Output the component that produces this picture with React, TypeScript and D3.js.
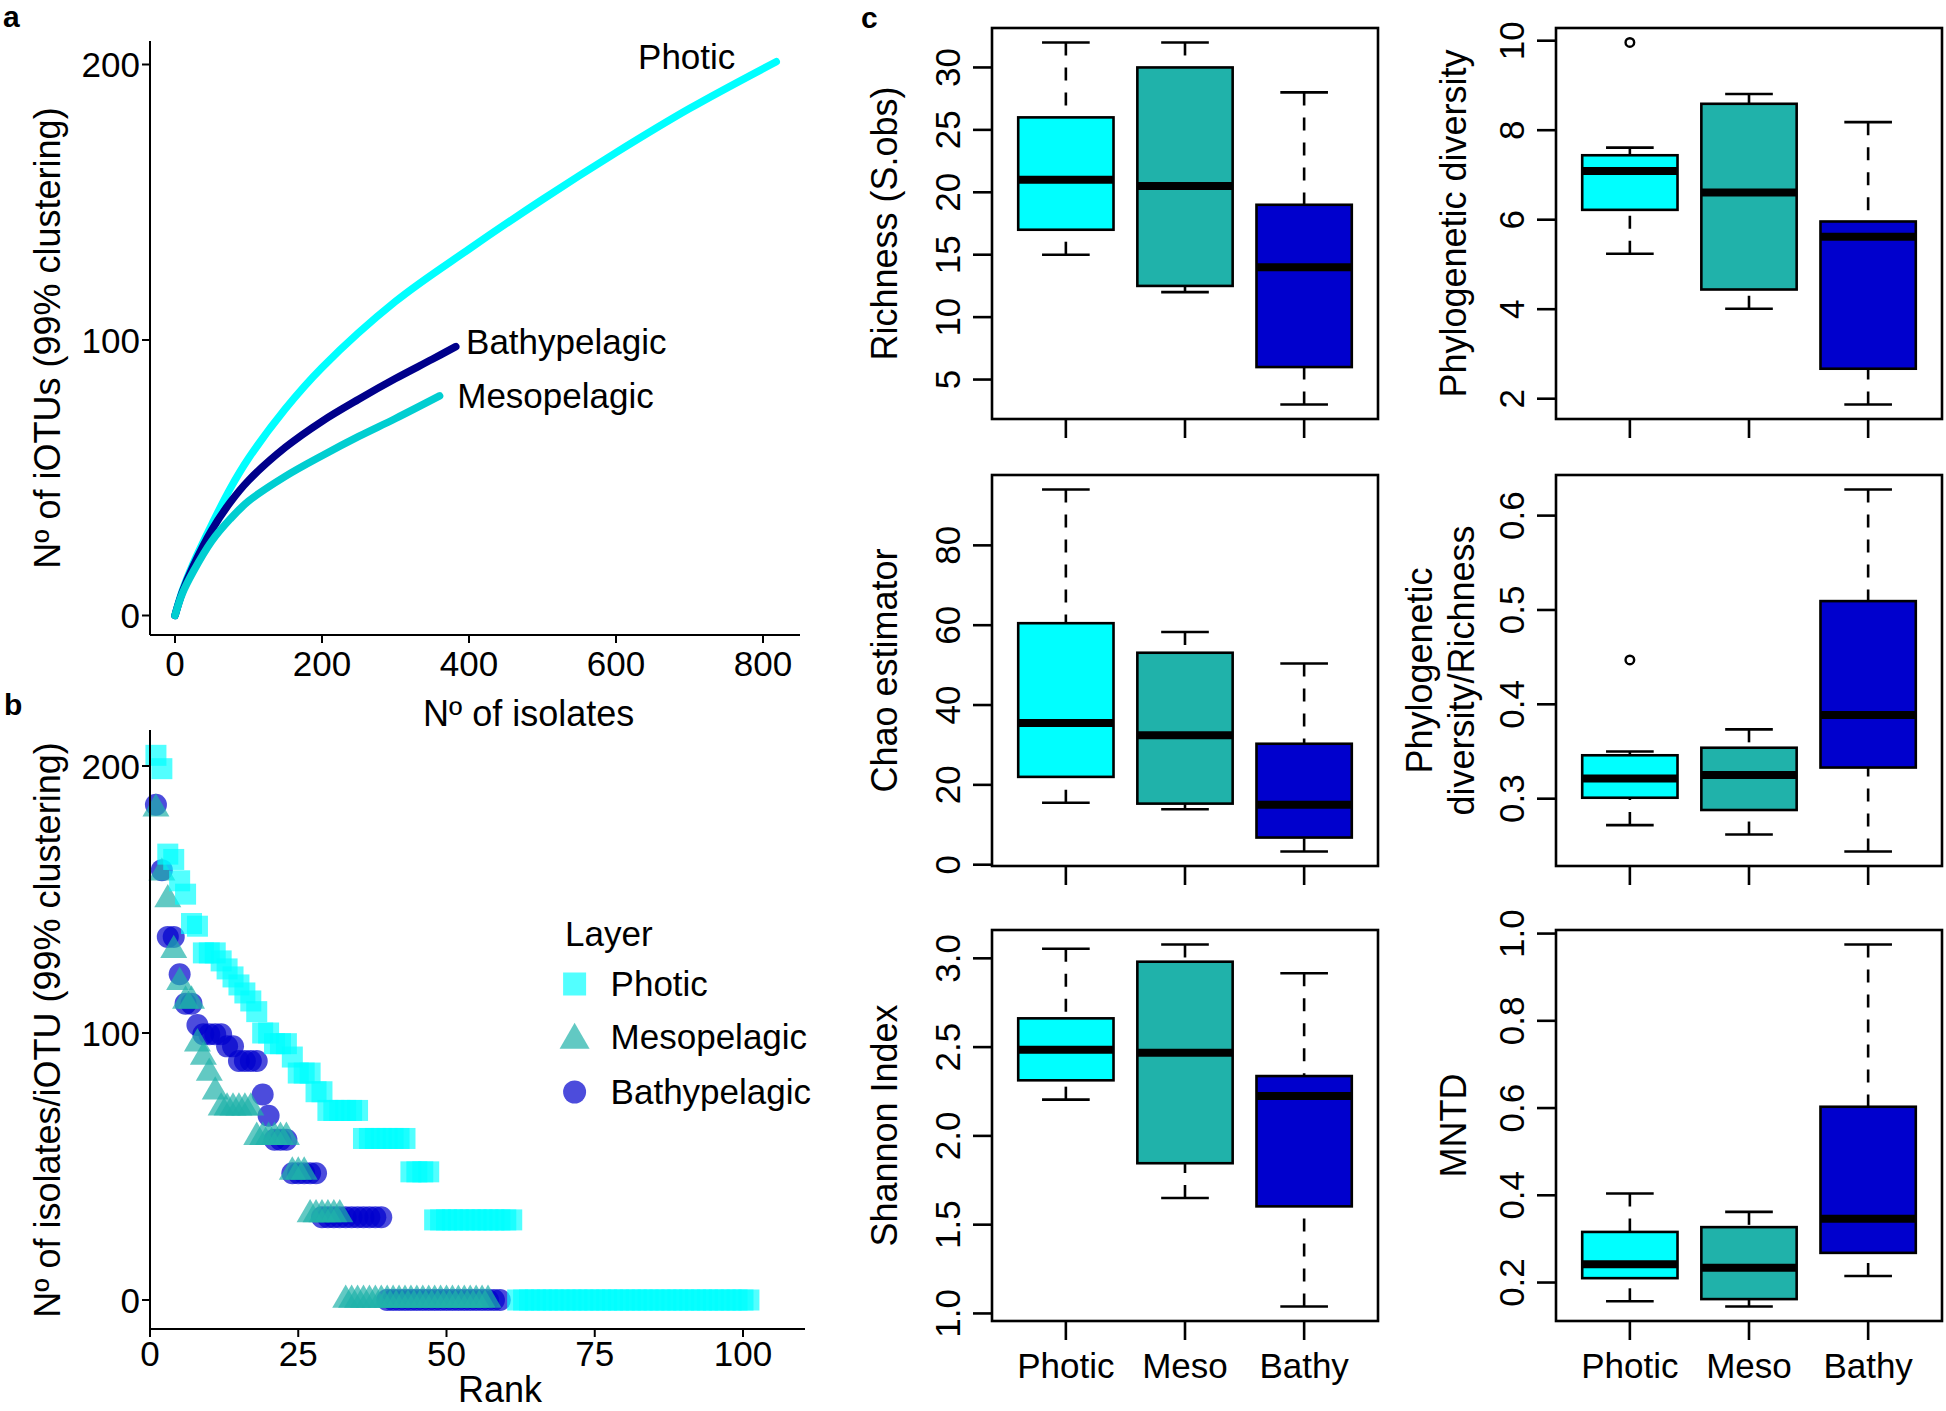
import React from "react";
import * as d3 from "d3";

const W = 1946;
const H = 1411;
const FONT = "'Liberation Sans', Arial, Helvetica, sans-serif";

// ---------- Panel a: rarefaction curves ----------
const photicCurveX = [0, 10, 25, 50, 75, 100, 150, 200, 300, 400, 500, 600, 700, 818];
const photicCurveY = [0, 9, 19, 33, 46, 57, 75, 90, 114, 133, 151, 168, 184, 201];
const bathyCurveX = [0, 10, 25, 50, 75, 100, 150, 200, 250, 300, 350, 382];
const bathyCurveY = [0, 8.5, 18, 31, 41, 49, 61, 70.5, 78.5, 86, 93, 97.6];
const mesoCurveX = [0, 10, 25, 50, 75, 100, 150, 200, 250, 300, 360];
const mesoCurveY = [0, 8, 16, 27, 35, 41.5, 50.5, 58, 65, 71.5, 79.7];
const curveXTicks = [0, 200, 400, 600, 800];
const curveYTicks = [0, 100, 200];

// ---------- Panel b: rank abundance ----------
const photicRank = [
  204, 199, 167, 165, 157, 152, 141, 140, 130, 130, 130, 127, 124, 121, 118, 115, 112, 108,
  100, 100, 96, 96, 96, 91, 85, 85, 85, 78, 78, 71, 71, 71, 71, 71, 71,
  60.5, 60.5, 60.5, 60.5, 60.5, 60.5, 60.5, 60.5, 48, 48, 48, 48,
  30, 30, 30, 30, 30, 30, 30, 30, 30, 30, 30, 30, 30, 30,
  0, 0, 0, 0, 0, 0, 0, 0, 0, 0, 0, 0, 0, 0, 0, 0, 0, 0, 0, 0,
  0, 0, 0, 0, 0, 0, 0, 0, 0, 0, 0, 0, 0, 0, 0, 0, 0, 0, 0, 0,
];
const mesoRank = [
  184, 160, 150, 131, 119, 112, 112, 96, 91, 85, 78, 72, 72, 72, 72, 72, 72,
  61, 61, 61, 61, 61, 61, 48, 48, 48, 32, 32, 32, 32, 32, 32,
  0, 0, 0, 0, 0, 0, 0, 0, 0, 0, 0, 0, 0, 0, 0, 0, 0, 0, 0, 0, 0, 0, 0, 0, 0,
];
const bathyRank = [
  185.5, 161, 136, 136, 122, 111, 111, 103, 99.5, 99.5, 99.5, 99.5, 95, 95,
  89.5, 89.5, 89.5, 89.5, 77, 69, 60, 60, 60, 47.5, 47.5, 47.5, 47.5, 47.5,
  31, 31, 31, 31, 31, 31, 31, 31, 31, 31, 31,
  0, 0, 0, 0, 0, 0, 0, 0, 0, 0, 0, 0, 0, 0, 0, 0, 0, 0, 0, 0,
];
const rankXTicks = [0, 25, 50, 75, 100];
const rankYTicks = [0, 100, 200];
const legendLabels = ["Photic", "Mesopelagic", "Bathypelagic"];

// ---------- Panel c: boxplots [lowWhisker, Q1, median, Q3, highWhisker] ----------
const groups = ["Photic", "Meso", "Bathy"];
const richnessStats = [[15, 17, 21, 26, 32], [12, 12.5, 20.5, 30, 32], [3, 6, 14, 19, 28]];
const richnessOut = [[], [], []];
const pdStats = [[5.24, 6.22, 7.09, 7.44, 7.61], [4.01, 4.44, 6.61, 8.59, 8.81], [1.87, 2.67, 5.62, 5.96, 8.18]];
const pdOut = [[9.96], [], []];
const chaoStats = [[15.5, 22, 35.5, 60.5, 94], [13.9, 15.3, 32.4, 53.1, 58.3], [3.3, 6.8, 15, 30.3, 50.4]];
const chaoOut = [[], [], []];
const pdrStats = [[0.272, 0.301, 0.3215, 0.346, 0.35], [0.262, 0.288, 0.325, 0.354, 0.3735], [0.244, 0.333, 0.3886, 0.5094, 0.6277]];
const pdrOut = [[0.447], [], []];
const shannonStats = [[2.204, 2.313, 2.485, 2.662, 3.054], [1.65, 1.846, 2.468, 2.981, 3.078], [1.039, 1.603, 2.225, 2.337, 2.916]];
const shannonOut = [[], [], []];
const mntdStats = [[0.157, 0.21, 0.242, 0.316, 0.404], [0.145, 0.162, 0.234, 0.327, 0.362], [0.215, 0.268, 0.346, 0.603, 0.975]];
const mntdOut = [[], [], []];

const richnessTicks = [5, 10, 15, 20, 25, 30];
const pdTicks = [2, 4, 6, 8, 10];
const chaoTicks = [0, 20, 40, 60, 80];
const pdrTicks = [0.3, 0.4, 0.5, 0.6];
const shannonTicks = [1.0, 1.5, 2.0, 2.5, 3.0];
const mntdTicks = [0.2, 0.4, 0.6, 0.8, 1.0];

const lineColors = { Photic: "#00FFFF", Meso: "#00CED1", Bathy: "#00008B" };
const boxColors = ["#00FFFF", "#20B2AA", "#0000CD"];

function PanelA() {
  const x = d3.scaleLinear().domain([0, 800]).range([175, 763]);
  const y = d3.scaleLinear().domain([0, 200]).range([615.5, 64.5]);
  const line = d3
    .line<[number, number]>()
    .x((d) => x(d[0]))
    .y((d) => y(d[1]))
    .curve(d3.curveCatmullRom.alpha(0.5));
  const mk = (xs: number[], ys: number[]) => xs.map((v, i) => [v, ys[i]] as [number, number]);
  const series = [
    { d: mk(photicCurveX, photicCurveY), c: lineColors.Photic },
    { d: mk(bathyCurveX, bathyCurveY), c: lineColors.Bathy },
    { d: mk(mesoCurveX, mesoCurveY), c: lineColors.Meso },
  ];
  return (
    <g>
      {series.map((s, i) => (
        <path key={i} d={line(s.d) || ""} fill="none" stroke={s.c} strokeWidth={7.5} strokeLinecap="round" strokeLinejoin="round" />
      ))}
      <line x1={150} x2={150} y1={41} y2={635} stroke="#000" strokeWidth={2} />
      <line x1={150} x2={800} y1={635} y2={635} stroke="#000" strokeWidth={2} />
      {curveYTicks.map((t) => (
        <g key={t}>
          <line x1={142} x2={150} y1={y(t)} y2={y(t)} stroke="#000" strokeWidth={2} />
          <text x={140} y={y(t) + 12.5} textAnchor="end" fontSize={35}>{t}</text>
        </g>
      ))}
      {curveXTicks.map((t) => (
        <g key={t}>
          <line x1={x(t)} x2={x(t)} y1={635} y2={643} stroke="#000" strokeWidth={2} />
          <text x={x(t)} y={676} textAnchor="middle" fontSize={35}>{t}</text>
        </g>
      ))}
      <text x={x(630)} y={y(203) + 12.5} fontSize={35}>Photic</text>
      <text x={x(396)} y={y(99.6) + 12.5} fontSize={35}>Bathypelagic</text>
      <text x={x(384)} y={y(80) + 12.5} fontSize={35}>Mesopelagic</text>
      <text x={528.7} y={726} textAnchor="middle" fontSize={36}>Nº of isolates</text>
      <text transform={`translate(60,338) rotate(-90)`} textAnchor="middle" fontSize={36}>
        Nº of iOTUs (99% clustering)
      </text>
    </g>
  );
}

function trianglePath(cx: number, cy: number, s: number) {
  const h = (s * Math.sqrt(3)) / 2;
  return `M${cx},${cy - (2 * h) / 3}L${cx + s / 2},${cy + h / 3}L${cx - s / 2},${cy + h / 3}Z`;
}

function PanelB() {
  const x = d3.scaleLinear().domain([0, 100]).range([150, 743]);
  const y = d3.scaleLinear().domain([0, 200]).range([1300, 766]);
  const cPhotic = "rgba(0,255,255,0.68)";
  const cMeso = "rgba(32,178,170,0.7)";
  const cBathy = "rgba(0,0,205,0.7)";
  const sq = 21;
  return (
    <g>
      {bathyRank.map((v, i) => (
        <circle key={"b" + i} cx={x(i + 1)} cy={y(v)} r={11} fill={cBathy} />
      ))}
      {mesoRank.map((v, i) => (
        <path key={"m" + i} d={trianglePath(x(i + 1), y(v), 27)} fill={cMeso} />
      ))}
      {photicRank.map((v, i) => (
        <rect key={"p" + i} x={x(i + 1) - sq / 2} y={y(v) - sq / 2} width={sq} height={sq} fill={cPhotic} />
      ))}
      <line x1={150} x2={150} y1={730} y2={1329} stroke="#000" strokeWidth={2} />
      <line x1={150} x2={805} y1={1329} y2={1329} stroke="#000" strokeWidth={2} />
      {rankYTicks.map((t) => (
        <g key={t}>
          <line x1={142} x2={150} y1={y(t)} y2={y(t)} stroke="#000" strokeWidth={2} />
          <text x={140} y={y(t) + 12.5} textAnchor="end" fontSize={35}>{t}</text>
        </g>
      ))}
      {rankXTicks.map((t) => (
        <g key={t}>
          <line x1={x(t)} x2={x(t)} y1={1329} y2={1337} stroke="#000" strokeWidth={2} />
          <text x={x(t)} y={1366} textAnchor="middle" fontSize={35}>{t}</text>
        </g>
      ))}
      <text x={500} y={1402} textAnchor="middle" fontSize={36}>Rank</text>
      <text transform={`translate(60,1030) rotate(-90)`} textAnchor="middle" fontSize={36}>
        Nº of isolates/iOTU (99% clustering)
      </text>
      {/* legend */}
      <text x={565} y={946} fontSize={35}>Layer</text>
      <rect x={574.6 - 11.5} y={984 - 11.5} width={23} height={23} fill={cPhotic} />
      <path d={trianglePath(574.6, 1040, 30)} fill={cMeso} />
      <circle cx={574.6} cy={1092} r={11.5} fill={cBathy} />
      {legendLabels.map((l, i) => (
        <text key={l} x={610.6} y={[996, 1049, 1104][i]} fontSize={35}>{l}</text>
      ))}
    </g>
  );
}

type BoxProps = {
  L: number;
  T: number;
  stats: number[][];
  outliers: number[][];
  ticks: number[];
  fmt: (v: number) => string;
  title: string[];
  titleOffsets: number[];
  showLabels: boolean;
};

function BoxPanel({ L, T, stats, outliers, ticks, fmt, title, titleOffsets, showLabels }: BoxProps) {
  const Wd = 386;
  const Hh = 391;
  const all = stats.flat().concat(outliers.flat());
  const mn = d3.min(all) as number;
  const mx = d3.max(all) as number;
  const pad = (mx - mn) * 0.04;
  const y = d3.scaleLinear().domain([mn - pad, mx + pad]).range([T + Hh, T]);
  const x = d3.scaleLinear().domain([0.38, 3.62]).range([L, L + Wd]);
  const bw = x(1.4) - x(1);
  const lw = 2.6;
  return (
    <g>
      {stats.map((s, i) => {
        const cx = x(i + 1);
        const [lo, q1, md, q3, hi] = s;
        return (
          <g key={i}>
            <line x1={cx} x2={cx} y1={y(hi)} y2={y(q3)} stroke="#000" strokeWidth={lw} strokeDasharray="13 12" />
            <line x1={cx} x2={cx} y1={y(lo)} y2={y(q1)} stroke="#000" strokeWidth={lw} strokeDasharray="13 12" />
            <line x1={cx - bw / 2} x2={cx + bw / 2} y1={y(hi)} y2={y(hi)} stroke="#000" strokeWidth={lw} />
            <line x1={cx - bw / 2} x2={cx + bw / 2} y1={y(lo)} y2={y(lo)} stroke="#000" strokeWidth={lw} />
            <rect x={cx - bw} y={y(q3)} width={2 * bw} height={y(q1) - y(q3)} fill={boxColors[i]} stroke="#000" strokeWidth={lw} />
            <line x1={cx - bw} x2={cx + bw} y1={y(md)} y2={y(md)} stroke="#000" strokeWidth={8} />
            {outliers[i].map((o, j) => (
              <circle key={j} cx={cx} cy={y(o)} r={4.3} fill="none" stroke="#000" strokeWidth={2.4} />
            ))}
            <line x1={cx} x2={cx} y1={T + Hh} y2={T + Hh + 19} stroke="#000" strokeWidth={lw} />
            {showLabels && (
              <text x={cx} y={T + Hh + 57} textAnchor="middle" fontSize={35}>{groups[i]}</text>
            )}
          </g>
        );
      })}
      <rect x={L} y={T} width={Wd} height={Hh} fill="none" stroke="#000" strokeWidth={lw} />
      {ticks.map((t) => (
        <g key={t}>
          <line x1={L - 19} x2={L} y1={y(t)} y2={y(t)} stroke="#000" strokeWidth={lw} />
          <text transform={`translate(${L - 32},${y(t)}) rotate(-90)`} textAnchor="middle" fontSize={35}>
            {fmt(t)}
          </text>
        </g>
      ))}
      {title.map((line, k) => (
        <text
          key={k}
          transform={`translate(${L + titleOffsets[k]},${T + Hh / 2}) rotate(-90)`}
          textAnchor="middle"
          fontSize={36}
        >
          {line}
        </text>
      ))}
    </g>
  );
}

export default function App() {
  const f0 = (v: number) => String(v);
  const f1 = (v: number) => v.toFixed(1);
  const LL = 992;
  const LR = 1556;
  const rows = [28, 475, 930];
  return (
    <svg
      width={W}
      height={H}
      viewBox={`0 0 ${W} ${H}`}
      style={{ display: "block", position: "absolute", left: 0, top: 0, background: "#fff" }}
      fontFamily={FONT}
    >
      <rect width={W} height={H} fill="#fff" />
      <text x={3} y={27} fontSize={30} fontWeight="bold">a</text>
      <text x={4} y={715} fontSize={30} fontWeight="bold">b</text>
      <text x={861} y={28} fontSize={30} fontWeight="bold">c</text>
      <PanelA />
      <PanelB />
      <BoxPanel L={LL} T={rows[0]} stats={richnessStats} outliers={richnessOut} ticks={richnessTicks} fmt={f0}
        title={["Richness (S.obs)"]} titleOffsets={[-95]} showLabels={false} />
      <BoxPanel L={LR} T={rows[0]} stats={pdStats} outliers={pdOut} ticks={pdTicks} fmt={f0}
        title={["Phylogenetic diversity"]} titleOffsets={[-90]} showLabels={false} />
      <BoxPanel L={LL} T={rows[1]} stats={chaoStats} outliers={chaoOut} ticks={chaoTicks} fmt={f0}
        title={["Chao estimator"]} titleOffsets={[-95]} showLabels={false} />
      <BoxPanel L={LR} T={rows[1]} stats={pdrStats} outliers={pdrOut} ticks={pdrTicks} fmt={f1}
        title={["Phylogenetic", "diversity/Richness"]} titleOffsets={[-124, -82]} showLabels={false} />
      <BoxPanel L={LL} T={rows[2]} stats={shannonStats} outliers={shannonOut} ticks={shannonTicks} fmt={f1}
        title={["Shannon Index"]} titleOffsets={[-95]} showLabels={true} />
      <BoxPanel L={LR} T={rows[2]} stats={mntdStats} outliers={mntdOut} ticks={mntdTicks} fmt={f1}
        title={["MNTD"]} titleOffsets={[-90]} showLabels={true} />
    </svg>
  );
}
